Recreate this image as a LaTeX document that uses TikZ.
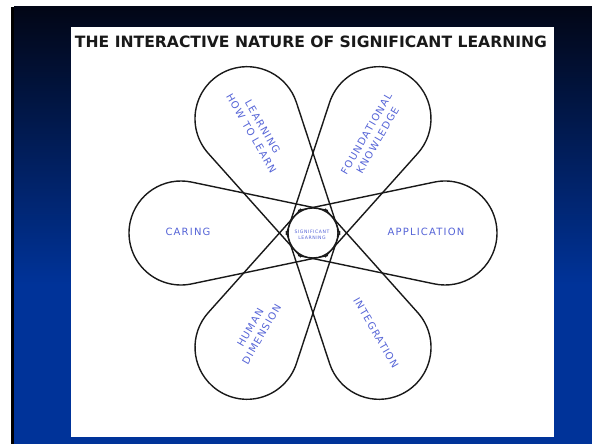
\documentclass[tikz,border=0pt]{standalone}
\usepackage{fontspec}
\setmainfont{DejaVu Sans}
\newfontfamily\labfont[LetterSpace=12]{DejaVu Sans}
\newfontfamily\titlefont{DejaVu Sans}
\usetikzlibrary{calc}
\definecolor{labblue}{RGB}{85,100,215}
\definecolor{bgtop}{RGB}{2,6,22}
\definecolor{bgbot}{RGB}{0,51,153}
\definecolor{inkline}{RGB}{25,25,25}
\begin{document}
\begin{tikzpicture}[x=1pt,y=1pt,
  petal/.style={draw=inkline, line width=1.4pt, line join=round},
  lab/.style={text=labblue, font=\labfont\fontsize{10}{13}\selectfont, align=center, inner sep=0pt},
  tinylab/.style={text=labblue, font=\labfont\fontsize{4.6}{6}\selectfont, align=center, inner sep=0pt}]
\useasboundingbox (0,0) rectangle (592,444);
% background
\fill[white] (0,0) rectangle (592,444);
\fill[bgbot] (14,0) rectangle (592,160);
\shade[top color=bgtop, bottom color=bgbot] (14,159.5) rectangle (592,437);
\fill[black] (11,0) rectangle (14,437);
\fill[white] (71,7) rectangle (554,417);
% title
\node[inner sep=0pt, text=black!90] (title) at (311,402)
  {\resizebox{472pt}{!}{\titlefont\bfseries THE INTERACTIVE NATURE OF SIGNIFICANT LEARNING}};
% petals
\coordinate (C) at (313,211);
\foreach \t in {0,60,120,180,240,300}{
  \draw[petal]
    ($(C)+(\t-101.8:25)+(\t+168.2:10)$) --
    ($(C)+(\t-101.8:25)$) --
    ($(C)+(\t:132)+(\t-101.8:52)$)
    arc[start angle=\t-101.8, end angle=\t+101.8, radius=52] --
    ($(C)+(\t+101.8:25)$) --
    ($(C)+(\t+101.8:25)+(\t+191.8:10)$);
}
\draw[petal, fill=white] (C) circle[radius=25];
\node[tinylab] (center) at (312,209) {SIGNIFICANT\\LEARNING};
% labels
\node[lab] (caring) at (188,212) {CARING};
\node[lab] (application) at (426,212) {APPLICATION};
\node[lab, rotate=-60] (learning) at (257,314) {LEARNING\\HOW TO LEARN};
\node[lab, rotate=60] (foundational) at (372,307) {FOUNDATIONAL\\KNOWLEDGE};
\node[lab, rotate=60] (human) at (256,113) {HUMAN\\DIMENSION};
\node[lab, rotate=-60] (integration) at (376,111) {INTEGRATION};
\end{tikzpicture}
\end{document}
